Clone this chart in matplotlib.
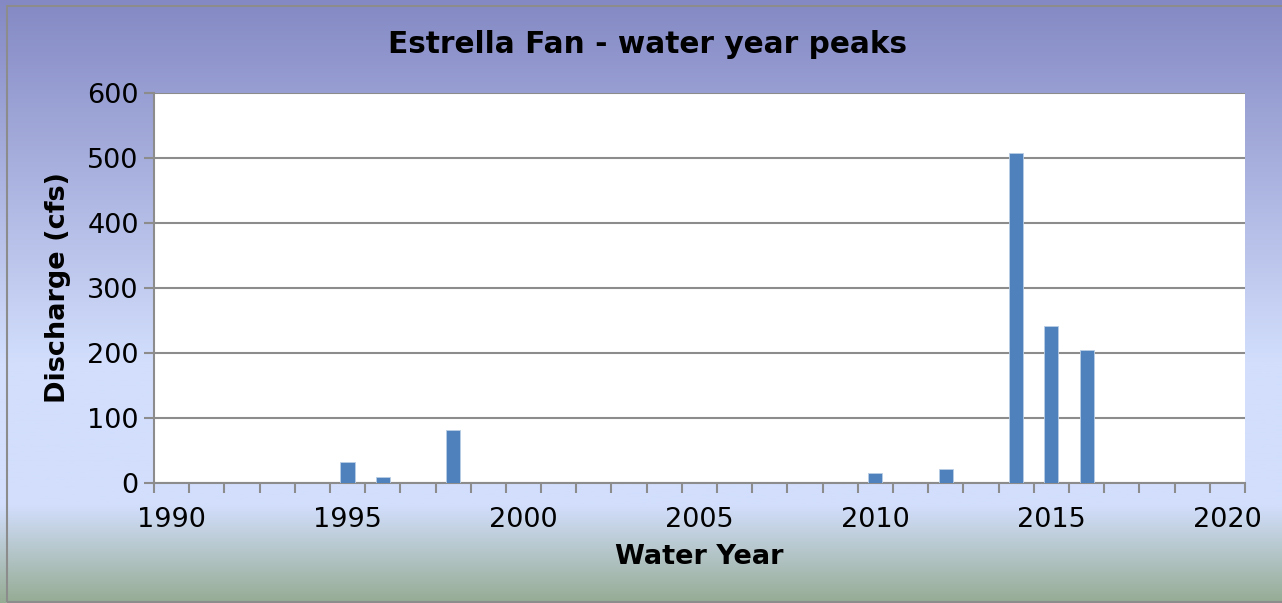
import numpy as np
import matplotlib.pyplot as plt
from matplotlib.colors import LinearSegmentedColormap
from matplotlib.patches import Rectangle

years = [1995, 1996, 1998, 2010, 2012, 2014, 2015, 2016]
peaks = [33, 9, 81, 15, 22, 507, 241, 204]
label_years = [1990, 1995, 2000, 2005, 2010, 2015, 2020]

fig = plt.figure(figsize=(12.82, 6.03), dpi=100)

# background gradient
bg = fig.add_axes([0, 0, 1, 1], zorder=0)
cmap = LinearSegmentedColormap.from_list(
    "bg", [(0.0, "#8489c4"), (0.6, "#d2defc"), (0.84, "#d2defc"), (1.0, "#96ac94")])
grad = np.linspace(0, 1, 256).reshape(-1, 1)
bg.imshow(grad, aspect="auto", cmap=cmap, extent=[0, 1, 0, 1], origin="upper")
bg.add_patch(Rectangle((6.5 / 1282, 1.5 / 603), 1.0, 1 - 7.5 / 603, fill=False,
                       edgecolor="#8c8c8c", linewidth=1.5, transform=bg.transAxes))
bg.set_xlim(0, 1)
bg.set_ylim(0, 1)
bg.set_axis_off()

ax = fig.add_axes([0.1201, 0.199, 0.851, 0.6468], zorder=1)
ax.set_facecolor("white")
ax.bar(years, peaks, width=0.4, color="#4f81bd", edgecolor="#b9cde5",
       linewidth=0.6, zorder=3)

ax.set_xlim(1989.5, 2020.5)
ax.set_ylim(0, 600)
ax.set_yticks(range(0, 601, 100))
ax.yaxis.grid(True, color="#8c8c8c", linewidth=1.5, zorder=1)

ax.set_xticks(np.arange(1989.5, 2021, 1))
ax.set_xticklabels([])
ax.set_xticks(label_years, minor=True)
ax.set_xticklabels([str(y) for y in label_years], minor=True)
ax.tick_params(axis="x", which="minor", length=0, labelsize=19.5, pad=17)
ax.tick_params(axis="x", which="major", length=7, width=1.5, color="#8c8c8c")
ax.tick_params(axis="y", length=7, width=1.5, color="#8c8c8c", labelsize=19.5, pad=4)

for side in ["top", "right"]:
    ax.spines[side].set_visible(False)
for side in ["left", "bottom"]:
    ax.spines[side].set_color("#8c8c8c")
    ax.spines[side].set_linewidth(1.5)

ax.set_xlabel("Water Year", fontsize=19.5, fontweight="bold", labelpad=8)
ax.set_ylabel("Discharge (cfs)", fontsize=19.5, fontweight="bold", labelpad=12)
fig.suptitle("Estrella Fan - water year peaks", fontsize=21.3, fontweight="bold",
             x=0.505, y=0.95)

fig.savefig("out.png", dpi=100)
